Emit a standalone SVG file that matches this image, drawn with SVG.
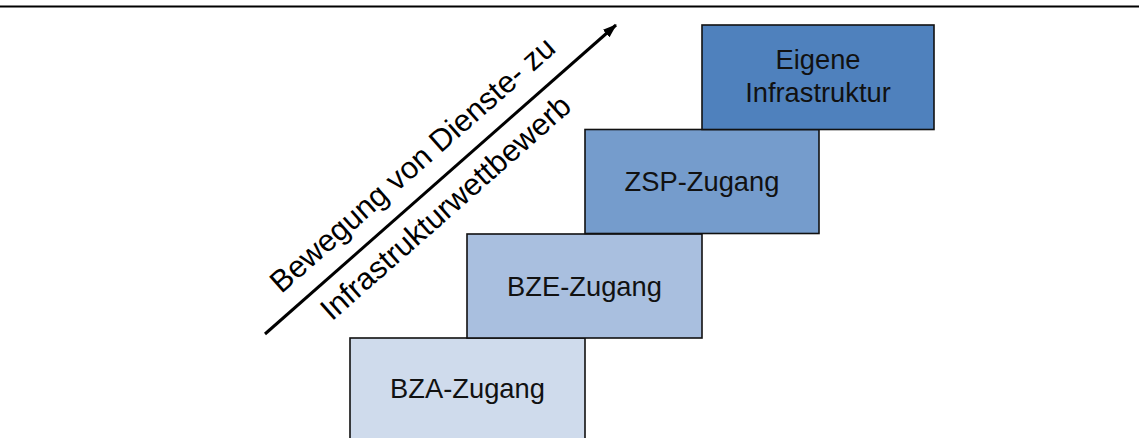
<svg xmlns="http://www.w3.org/2000/svg" width="1139" height="438" viewBox="0 0 1139 438">
<style>
.box{stroke:#111;stroke-width:1.6}
.lbl{font-family:"Liberation Sans",Arial,sans-serif;font-size:27.3px;fill:#111;text-anchor:middle}
.diag{font-family:"Liberation Sans",Arial,sans-serif;font-size:30.8px;fill:#000;text-anchor:middle}
</style>
<defs>
<marker id="ah" markerWidth="14" markerHeight="12" refX="13" refY="5" orient="auto" markerUnits="userSpaceOnUse">
<path d="M0,0 L14,5 L0,10 Z" fill="#000"/>
</marker>
</defs>
<rect width="1139" height="438" fill="#fff"/>
<line x1="0" y1="6.5" x2="1139" y2="6.5" stroke="#000" stroke-width="2"/>
<g id="bza">
<rect class="box" x="350" y="338" width="235" height="104" fill="#CFDBEC"/>
<text class="lbl" x="467.5" y="397.5">BZA-Zugang</text>
</g>
<g id="bze">
<rect class="box" x="467" y="234" width="235" height="104" fill="#A9BFDF"/>
<text class="lbl" x="584.5" y="295.5">BZE-Zugang</text>
</g>
<g id="zsp">
<rect class="box" x="585" y="129.5" width="234" height="104" fill="#759CCC"/>
<text class="lbl" x="702" y="190.5">ZSP-Zugang</text>
</g>
<g id="eigene">
<rect class="box" x="702" y="25" width="232" height="104.5" fill="#4F81BD"/>
<text class="lbl" x="818" y="69">Eigene</text>
<text class="lbl" x="818" y="102">Infrastruktur</text>
</g>
<g id="connectors">
<line x1="265" y1="334" x2="616" y2="25" stroke="#000" stroke-width="3" marker-end="url(#ah)"/>
</g>
<g id="arrow-label">
<text class="diag" transform="translate(419.3,172.5) rotate(-41.4)">Bewegung von Dienste- zu</text>
<text class="diag" transform="translate(452.4,215.4) rotate(-41.4)">Infrastrukturwettbewerb</text>
</g>
</svg>
